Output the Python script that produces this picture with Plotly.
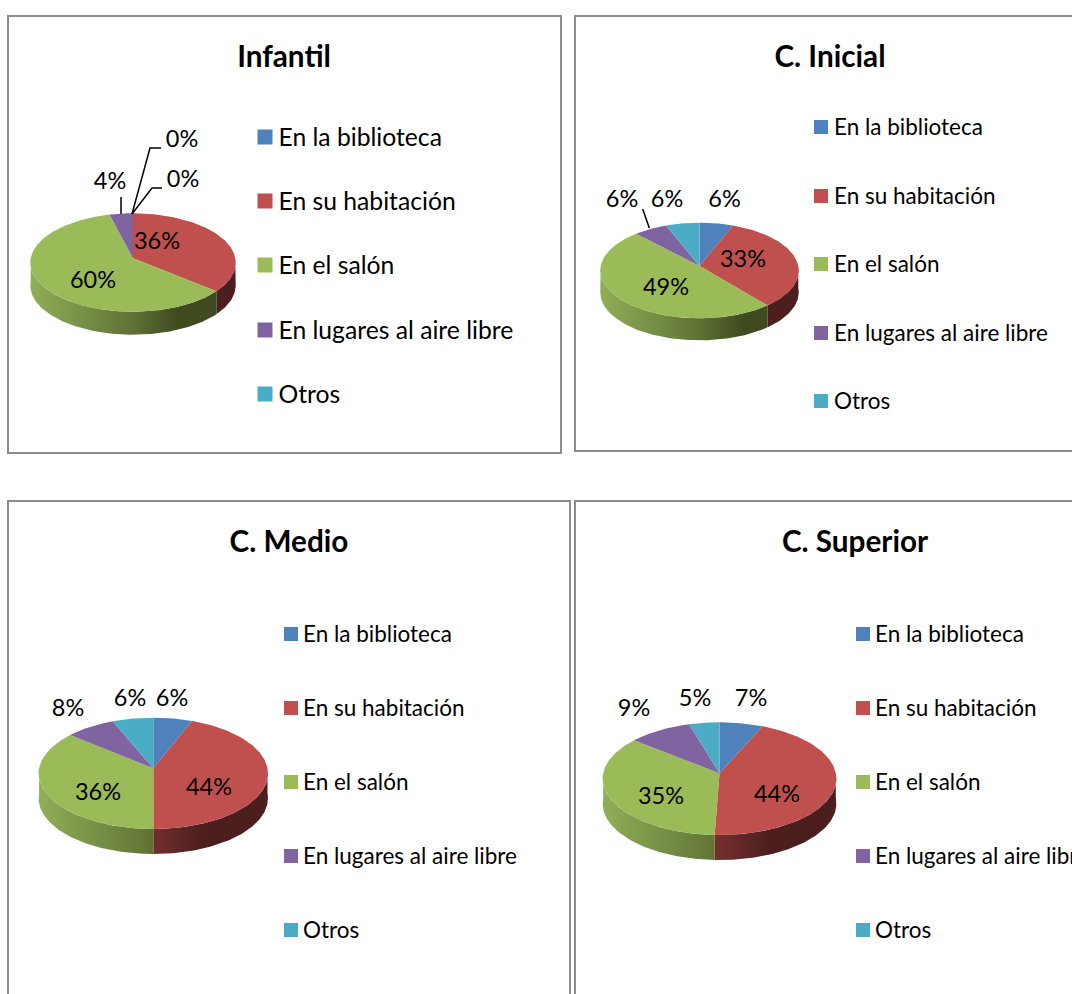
import math
import plotly.graph_objects as go

# ---------- data ----------
CATEGORIES = ["En la biblioteca", "En su habitación", "En el salón", "En lugares al aire libre", "Otros"]
TITLES = ["Infantil", "C. Inicial", "C. Medio", "C. Superior"]
INFANTIL = [0, 36, 60, 4, 0]
INICIAL = [6, 33, 49, 6, 6]
MEDIO = [6, 44, 36, 7.7, 6.3]
SUPERIOR = [6.6, 44, 35.2, 9.6, 4.6]
SERIES = [INFANTIL, INICIAL, MEDIO, SUPERIOR]
LABELS = [
    ["0%", "36%", "60%", "4%", "0%"],
    ["6%", "33%", "49%", "6%", "6%"],
    ["6%", "44%", "36%", "8%", "6%"],
    ["7%", "44%", "35%", "9%", "5%"],
]

# ---------- styles and layout (page pixels) ----------
COLORS = ["#4f81bd", "#c0504d", "#9bbb59", "#8064a2", "#4bacc6"]
SIDE = [
    ["#6f93c0", "#3f5f88", "#22344c", "#22344c"],
    ["#a04a48", "#732e2c", "#4c1e1e", "#4c1e1e"],
    ["#90ae58", "#5f7234", "#3f4a1f", "#3f4a1f"],
    ["#8a70a8", "#5d4875", "#32283f", "#32283f"],
    ["#5fb4cc", "#32798c", "#1c4450", "#1c4450"],
]
FONT = "Lato, Carlito, Calibri, sans-serif"
BORDER = "#8c8c8c"
TEXT_DY = 2.5

PANELS = [(8, 16, 561, 453), (575, 16, 1100, 451), (8, 501, 570, 1100), (575, 501, 1100, 1100)]
TITLE_POS = [(284, 57), (830, 57), (289, 542), (855, 542)]
# apex x, apex y, radius, top of disc, bottom of disc, side depth
PIES = [
    (133, 258.3, 102.3, 213.3, 311.7, 23),
    (699.5, 266, 98.8, 222.7, 318.3, 22),
    (153.3, 768.3, 114.2, 717.7, 829, 25),
    (719.5, 773.3, 116.3, 722.3, 835, 25),
]
LEGEND_X = [265, 821, 291, 863]
LEGEND_GAP = [6, 6, 5, 5]
LEGEND_Y = [
    [137, 201, 265, 330, 394],
    [127, 196, 264, 333, 401],
    [634, 708, 782, 856, 930],
    [634, 708, 782, 856, 930],
]
LEGEND_SIZE = [15, 14, 14, 14]
LEGEND_FONT = [24.7, 22.5, 22.5, 22.5]
LABEL_POS = [
    [(182, 139), (157, 241), (93, 280), (110, 181), (183, 179)],
    [(724.5, 199), (743, 259), (666, 287), (622, 199), (667, 199)],
    [(172, 698), (209, 787), (98, 792), (68, 708), (130, 698)],
    [(751, 698), (777, 794), (661, 796), (634, 708), (695, 698)],
]
LEADERS = [
    [(121, 197), (121, 214)],
    [(132, 214), (152, 188), (162, 188)],
    [(132, 214), (150, 148), (161, 148)],
    [(642.7, 209), (649.3, 228)],
]


def disc_point(pie, turn):
    """Position on the rim for a fraction of the circle, clockwise from the top, with perspective."""
    ax, ay, r, top, bottom, _ = pie
    up, down = ay - top, bottom - ay
    k = (down - up) / (down + up)
    h = up * (1 + k)
    t = 2 * math.pi * turn
    u, v = math.sin(t), math.cos(t)
    w = 1 + k * v
    return ax + r * u / w, ay - h * v / w


fig = go.Figure()

for pi_, values in enumerate(SERIES):
    pie = PIES[pi_]
    total = sum(values)
    depth = pie[5]
    ax = pie[0]
    r = pie[2]
    # side walls first
    cum = 0
    for i, val in enumerate(values):
        a0, a1 = cum / total, (cum + val) / total
        cum += val
        s0, s1 = max(a0, 0.25), min(a1, 0.75)
        if val == 0 or s1 <= s0:
            continue
        n = max(4, int((s1 - s0) * 360))
        rim = [disc_point(pie, s0 + (s1 - s0) * j / n) for j in range(n + 1)]
        xs = [p[0] for p in rim] + [p[0] for p in reversed(rim)] + [rim[0][0]]
        ys = [p[1] for p in rim] + [p[1] + depth for p in reversed(rim)] + [rim[0][1]]
        stops = SIDE[i]
        fig.add_trace(go.Scatter(
            x=xs, y=ys, mode="lines", line=dict(width=0), fill="toself",
            fillgradient=dict(
                type="horizontal", start=ax - r, stop=ax + r,
                colorscale=[[0, stops[0]], [0.5, stops[1]], [0.72, stops[2]], [1, stops[3]]],
            ),
            hoverinfo="skip", showlegend=False,
        ))
    # top faces
    cum = 0
    for i, val in enumerate(values):
        a0, a1 = cum / total, (cum + val) / total
        cum += val
        if val == 0:
            continue
        n = max(4, int((a1 - a0) * 360))
        rim = [disc_point(pie, a0 + (a1 - a0) * j / n) for j in range(n + 1)]
        xs = [ax] + [p[0] for p in rim] + [ax]
        ys = [pie[1]] + [p[1] for p in rim] + [pie[1]]
        fig.add_trace(go.Scatter(
            x=xs, y=ys, mode="lines", line=dict(width=0), fill="toself",
            fillcolor=COLORS[i], name=CATEGORIES[i], hoverinfo="name", showlegend=False,
        ))
    # data labels
    fig.add_trace(go.Scatter(
        x=[p[0] for p in LABEL_POS[pi_]], y=[p[1] + TEXT_DY for p in LABEL_POS[pi_]],
        mode="text", text=LABELS[pi_], textposition="middle center",
        textfont=dict(family=FONT, size=23.5, color="#000000"),
        hoverinfo="skip", showlegend=False,
    ))
    # legend
    lx = LEGEND_X[pi_]
    ly = LEGEND_Y[pi_]
    fig.add_trace(go.Scatter(
        x=[lx] * len(CATEGORIES), y=ly, mode="markers",
        marker=dict(symbol="square", size=LEGEND_SIZE[pi_], color=COLORS, line=dict(width=0)),
        hoverinfo="skip", showlegend=False,
    ))
    fig.add_trace(go.Scatter(
        x=[lx + LEGEND_SIZE[pi_] / 2 + LEGEND_GAP[pi_]] * len(CATEGORIES), y=[v + TEXT_DY for v in ly], mode="text",
        text=CATEGORIES, textposition="middle right",
        textfont=dict(family=FONT, size=LEGEND_FONT[pi_], color="#000000"),
        hoverinfo="skip", showlegend=False,
    ))

for leader in LEADERS:
    fig.add_trace(go.Scatter(
        x=[p[0] for p in leader], y=[p[1] for p in leader], mode="lines",
        line=dict(color="#000000", width=1.5), hoverinfo="skip", showlegend=False,
    ))

fig.add_trace(go.Scatter(
    x=[p[0] for p in TITLE_POS], y=[p[1] + TEXT_DY for p in TITLE_POS], mode="text", text=TITLES,
    textposition="middle center",
    textfont=dict(family=FONT, size=29.7, color="#000000", weight="bold"),
    hoverinfo="skip", showlegend=False,
))

shapes = [
    dict(type="rect", xref="x", yref="y", x0=x0, y0=y0, x1=x1, y1=y1,
         line=dict(color=BORDER, width=2), fillcolor="rgba(0,0,0,0)", layer="below")
    for x0, y0, x1, y1 in PANELS
]

fig.update_layout(
    width=1072, height=994, margin=dict(l=0, r=0, t=0, b=0),
    paper_bgcolor="#ffffff", plot_bgcolor="#ffffff", showlegend=False,
    shapes=shapes,
    xaxis=dict(range=[0, 1072], visible=False, fixedrange=True),
    yaxis=dict(range=[994, 0], visible=False, fixedrange=True),
)
fig.write_html(
    "out.html",
    config={"displayModeBar": False},
    post_script="document.body.style.margin='0';document.documentElement.style.overflow='hidden';",
)
